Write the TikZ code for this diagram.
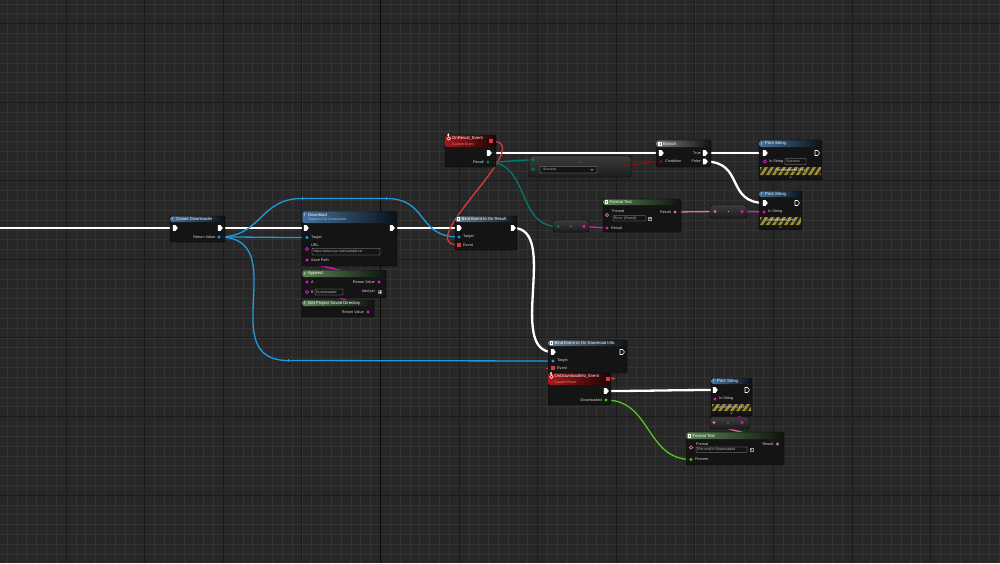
\documentclass[tikz,border=0pt]{standalone}
\usepackage{fontspec}
\setmainfont{Liberation Sans}
\definecolor{bg}{HTML}{272727}
\definecolor{gridminor}{HTML}{333333}
\definecolor{gridmajor}{HTML}{1B1B1B}
\definecolor{gridorigin}{HTML}{0A0A0A}
\definecolor{bodyc}{HTML}{141414}
\definecolor{hblue}{HTML}{44719C}
\definecolor{hbind}{HTML}{667E94}
\definecolor{hgreen}{HTML}{5B8655}
\definecolor{hgray}{HTML}{7A7A7A}
\definecolor{hred}{HTML}{A8181A}
\definecolor{wobj}{HTML}{1E9BE0}
\definecolor{wdel}{HTML}{D83A3A}
\definecolor{wbool}{HTML}{8C1010}
\definecolor{wenum}{HTML}{007A6A}
\definecolor{wstr}{HTML}{EE10C8}
\definecolor{wtext}{HTML}{DD6FAA}
\definecolor{wnum}{HTML}{4AC81E}
\definecolor{lblc}{HTML}{D6D6D6}
\definecolor{subc}{HTML}{A9C3DA}
\definecolor{subred}{HTML}{E48A8A}
\definecolor{hazy}{HTML}{9C9030}
\definecolor{ctop}{HTML}{3C3C3C}
\definecolor{cbot}{HTML}{1C1C1C}
\tikzset{
  bpbody/.style={rectangle, rounded corners=2pt, fill=bodyc, fill opacity=0.96, draw=black, line width=0.4pt, inner sep=0pt, outer sep=0pt, anchor=north west},
  cbody/.style={rectangle, rounded corners=2.5pt, top color=ctop, bottom color=cbot, draw=black, line width=0.4pt, inner sep=0pt, outer sep=0pt, anchor=north west},
  ttl/.style={text=white, font=\fontsize{4.2}{4.5}\selectfont, inner sep=0pt, anchor=west},
  subt/.style={text=subc, font=\fontsize{3.4}{4}\selectfont, inner sep=0pt, anchor=west},
  lab/.style={text=lblc, font=\fontsize{3.8}{4}\selectfont, inner sep=0pt},
  fld/.style={fill=black!92, draw=gray!70, line width=0.3pt, rounded corners=0.6pt},
  fldtxt/.style={text=gray!50!white, font=\fontsize{3.5}{4}\selectfont, inner sep=0pt, anchor=west},
  dpin/.style={circle, fill=#1, minimum size=3.4pt, inner sep=0pt},
  hpin/.style={circle, draw=#1, line width=0.6pt, minimum size=3.2pt, inner sep=0pt},
  spin/.style={rectangle, fill=#1, minimum size=3.2pt, inner sep=0pt},
  execw/.style={draw=white, line width=2.3pt},
  dataw/.style={draw=#1, line width=1.3pt},
  execf/.pic={\fill[white] (-2.2,-2.8) -- (0.6,-2.8) -- (2.8,0) -- (0.6,2.8) -- (-2.2,2.8) -- cycle;},
  exech/.pic={\draw[white, line width=0.55pt, line join=round] (-2,-2.5) -- (0.5,-2.5) -- (2.5,0) -- (0.5,2.5) -- (-2,2.5) -- cycle;},
}
\newcommand{\bpbox}[7]{%
  \pgfmathsetmacro\bpW{#4-#2}%
  \pgfmathsetmacro\bpH{#5-#3}%
  \node[bpbody, minimum width=\bpW pt, minimum height=\bpH pt] (#1) at (#2,#3) {};%
  \shade[left color=#7, right color=#7!15!black, rounded corners=1.5pt] (#2+0.3,#3+0.3) rectangle (#4-0.3,#6);%
}
\newcommand{\cbox}[5]{%
  \pgfmathsetmacro\bpW{#4-#2}%
  \pgfmathsetmacro\bpH{#5-#3}%
  \node[cbody, minimum width=\bpW pt, minimum height=\bpH pt] (#1) at (#2,#3) {};%
}
\newcommand{\devonly}[4]{%
  \begin{scope}
    \clip (#1,#2) rectangle (#3,#4);
    \fill[black!85] (#1,#2) rectangle (#3,#4);
    \foreach \s in {0,6,...,84} \fill[hazy] (#1-12+\s,#4) -- (#1-9+\s,#4) -- (#1-4+\s,#2) -- (#1-7+\s,#2) -- cycle;
  \end{scope}
  \node[text=black, font=\fontsize{3.6}{4}\selectfont, inner sep=0pt] at ({(#1+#3)/2+0.35},{(#2+#4)/2+0.35}) {Development Only};
  \node[text=white, font=\fontsize{3.6}{4}\selectfont, inner sep=0pt] at ({(#1+#3)/2},{(#2+#4)/2}) {Development Only};
  \draw[gray!80, line width=0.4pt] ({(#1+#3)/2-1},{#4+1.6}) -- ({(#1+#3)/2},{#4+2.6}) -- ({(#1+#3)/2+1},{#4+1.6});
}
\begin{document}
\begin{tikzpicture}[x=1pt,y=-1pt]
\useasboundingbox (0,0) rectangle (1000,563);
% ---------- background grid ----------
\fill[bg] (0,0) rectangle (1000,563);
\foreach \i in {0,...,101} \draw[gridminor, line width=0.6pt] ({7.05+9.825*\i},0) -- ({7.05+9.825*\i},563);
\foreach \i in {0,...,57} \draw[gridminor, line width=0.6pt] (0,{3.85+9.825*\i}) -- (1000,{3.85+9.825*\i});
\foreach \i in {-1,...,12} \draw[gridmajor, line width=1pt] ({66+78.6*\i},0) -- ({66+78.6*\i},563);
\foreach \i in {0,...,7} \draw[gridmajor, line width=1pt] (0,{23.5+78.6*\i}) -- (1000,{23.5+78.6*\i});
\draw[gridorigin, line width=1pt] (380.4,0) -- (380.4,563);
% ---------- pin coordinates ----------
\coordinate (lstart) at (0,228);
\coordinate (cd-in) at (175,228); \coordinate (cd-out) at (220,228); \coordinate (cd-rv) at (219,237);
\coordinate (dl-in) at (306,228); \coordinate (dl-out) at (392,228); \coordinate (dl-tgt) at (307,237.5);
\coordinate (dl-url) at (307,249); \coordinate (dl-sp) at (307,260);
\coordinate (ap-a) at (307,282); \coordinate (ap-rv) at (379,282); \coordinate (ap-b) at (307,292);
\coordinate (gp-rv) at (368,312);
\coordinate (br-in) at (459,228); \coordinate (br-out) at (513,228); \coordinate (br-tgt) at (459,237); \coordinate (br-ev) at (459,245);
\coordinate (or-del) at (491,141); \coordinate (or-out) at (489,153); \coordinate (or-res) at (488,162);
\coordinate (eq-a) at (533,160); \coordinate (eq-b) at (533,169.5); \coordinate (eq-out) at (625,165);
\coordinate (bx-in) at (661,153); \coordinate (bx-cond) at (661,161.5); \coordinate (bx-t) at (705,153); \coordinate (bx-f) at (705,161.5);
\coordinate (ps1-in) at (765,153); \coordinate (ps1-out) at (817,153); \coordinate (ps1-str) at (765,161.5);
\coordinate (ps2-in) at (765,203); \coordinate (ps2-out) at (797,203); \coordinate (ps2-str) at (764,212);
\coordinate (ft1-fmt) at (607,215); \coordinate (ft1-ro) at (675,212); \coordinate (ft1-ri) at (607,228);
\coordinate (cv1-in) at (715,211.5); \coordinate (cv1-out) at (742,211.5);
\coordinate (cv2-in) at (558,226.5); \coordinate (cv2-out) at (584,226.5);
\coordinate (bd-in) at (553,352); \coordinate (bd-out) at (622,352); \coordinate (bd-tgt) at (553,361); \coordinate (bd-ev) at (553,368);
\coordinate (od-del) at (608,379); \coordinate (od-out) at (606,391); \coordinate (od-dl) at (606,400);
\coordinate (ps3-in) at (715,390); \coordinate (ps3-out) at (747,390); \coordinate (ps3-str) at (715,399);
\coordinate (cv3-in) at (714,422.5); \coordinate (cv3-out) at (742,422.5);
\coordinate (ft2-fmt) at (691,447.5); \coordinate (ft2-res) at (777.5,444); \coordinate (ft2-pct) at (691,459.5);
\coordinate (k1) at (302,198.5); \coordinate (k2) at (386,198.5); \coordinate (k3) at (288,360.5);
% ---------- wires ----------
\draw[execw] (lstart) -- (cd-in);
\draw[execw] (cd-out) -- (dl-in);
\draw[execw] (dl-out) -- (br-in);
\draw[execw] (or-out) -- (bx-in);
\draw[execw] (bx-t) -- (ps1-in);
\draw[execw] (bx-f) .. controls +(40,0) and +(-40,0) .. (ps2-in);
\draw[execw] (br-out) .. controls +(47,0) and +(-47,0) .. (bd-in);
\draw[execw] (od-out) .. controls +(40,0) and +(-40,0) .. (ps3-in);
\draw[dataw=wobj] (cd-rv) .. controls +(40,0) and +(-40,0) .. (dl-tgt);
\draw[dataw=wobj] (cd-rv) .. controls +(43,0) and +(-43,0) .. (k1) -- (k2) .. controls +(43,0) and +(-43,0) .. (br-tgt);
\draw[dataw=wobj] (cd-rv) .. controls +(75,0) and +(-75,0) .. (k3) -- (bd-tgt);
\foreach \k in {k1,k2,k3} \draw[wobj, line width=0.8pt] ([yshift=1.8pt]\k) -- ([yshift=-1.8pt]\k);
\draw[dataw=wdel] (or-del) .. controls +(50,0) and +(-50,0) .. (br-ev);
\draw[dataw=wdel] (od-del) .. controls +(32,0) and +(-32,0) .. (bd-ev);
\draw[dataw=wbool] (eq-out) .. controls +(18,0) and +(-18,0) .. (bx-cond);
\draw[dataw=wenum] (or-res) .. controls +(22,0) and +(-22,0) .. (eq-a);
\draw[dataw=wenum] (or-res) .. controls +(42,0) and +(-42,0) .. (cv2-in);
\draw[dataw=wstr] (cv2-out) -- (ft1-ri);
\draw[dataw=wtext] (ft1-ro) -- (cv1-in);
\draw[dataw=wstr] (cv1-out) -- (ps2-str);
\draw[dataw=wstr] (ap-rv) .. controls +(20,0) and +(-20,0) .. (dl-sp);
\draw[dataw=wstr] (gp-rv) .. controls +(20,0) and +(-20,0) .. (ap-a);
\draw[dataw=wtext] (ft2-res) .. controls +(20,0) and +(-20,0) .. (cv3-in);
\draw[dataw=wstr] (cv3-out) .. controls +(20,0) and +(-20,0) .. (ps3-str);
\draw[dataw=wnum] (od-dl) .. controls +(45,0) and +(-45,0) .. (ft2-pct);
% ---------- nodes ----------
% Create Downloader
\bpbox{cd}{170}{216}{225}{242}{222}{hblue}
\node[ttl] at (171.8,219) {\textit{f}}; \node[ttl] at (176,219) {Create Downloader};
\node[lab, anchor=east] at ([xshift=-3.5pt]cd-rv) {Return Value};
% Download
\bpbox{dl}{302}{211}{397}{266}{223}{hblue}
\node[ttl] at (304,214.5) {\textit{f}}; \node[ttl] at (308,214.5) {Download};
\node[subt] at (308,219.5) {Target is File Downloader};
\node[lab, anchor=west] at ([xshift=4pt]dl-tgt) {Target};
\node[lab, anchor=west] at (311,245) {URL};
\draw[fld] (312,248.3) rectangle (380,255);
\node[fldtxt] at (313.5,251.6) {https://www.xyz.com/sample.txt};
\node[lab, anchor=west] at ([xshift=4pt]dl-sp) {Save Path};
% Append
\bpbox{ap}{302}{270}{386}{298}{277}{hgreen}
\node[ttl] at (304,273.5) {\textit{f}}; \node[ttl] at (308,273.5) {Append};
\node[lab, anchor=west] at ([xshift=4pt]ap-a) {A};
\node[lab, anchor=east] at ([xshift=-4pt]ap-rv) {Return Value};
\node[lab, anchor=west] at ([xshift=4pt]ap-b) {B};
\draw[fld] (315,289) rectangle (343,295);
\node[fldtxt] at (316,292) {Downloaded/};
\node[lab, anchor=east] at (375,292) {Add pin};
\draw[lblc, line width=0.4pt] (380,292) circle (2);
\draw[lblc, line width=0.4pt] (378.8,292) -- (381.2,292) (380,290.8) -- (380,293.2);
% Get Project Saved Directory
\bpbox{gp}{302}{300}{374}{317}{306}{hgreen}
\node[ttl] at (304,303) {\textit{f}}; \node[ttl] at (308,303) {Get Project Saved Directory};
\node[lab, anchor=east] at ([xshift=-4pt]gp-rv) {Return Value};
% Bind Event to On Result
\bpbox{br}{455}{216}{517}{250}{222}{hbind}
\draw[white, line width=0.4pt] (456.8,217.6) rectangle (459.6,220.4);
\node[ttl] at (461.5,219) {Bind Event to On Result};
\node[lab, anchor=west] at ([xshift=4pt]br-tgt) {Target};
\node[lab, anchor=west] at ([xshift=4pt]br-ev) {Event};
% OnResult_Event
\bpbox{or}{445}{135}{496}{167}{147}{hred}
\draw[white, line width=0.5pt] (448.8,138.5) circle (1.7);
\fill[white] (448.8,136.8) arc (90:270:1.7) -- cycle;
\node[ttl] at (452,138.5) {OnResult\_Event};
\node[subt, text=subred] at (452,144) {Custom Event};
\node[lab, anchor=east] at ([xshift=-4pt]or-res) {Result};
% Equal (enum) compact node
\cbox{eq}{529}{156}{631}{177}
\node[text=gray!80, font=\fontsize{2.6}{3}\selectfont, inner sep=0pt] at (580,163) {==};
\draw[fld] (540,166.5) rectangle (597,173);
\node[fldtxt] at (543,169.75) {Success};
\draw[lblc, line width=0.4pt] (590.8,169) -- (592,170.4) -- (593.2,169);
% Branch
\bpbox{bx}{656}{140}{711}{167}{147}{hgray}
\draw[white, line width=0.4pt] (658,142) rectangle (661,145) (659.5,142) -- (659.5,145);
\node[ttl] at (663,143.5) {Branch};
\node[lab, anchor=west] at ([xshift=4pt]bx-cond) {Condition};
\node[lab, anchor=east] at ([xshift=-4pt]bx-t) {True};
\node[lab, anchor=east] at ([xshift=-4pt]bx-f) {False};
% Print String 1
\bpbox{ps1}{759}{140}{822}{180}{147}{hblue}
\node[ttl] at (761,143.5) {\textit{f}}; \node[ttl] at (765,143.5) {Print String};
\node[lab, anchor=west] at ([xshift=4pt]ps1-str) {In String};
\draw[fld] (785,158.5) rectangle (806,164.5);
\node[fldtxt] at (786.5,161.5) {Success};
\devonly{760}{167}{821}{175}
% Print String 2
\bpbox{ps2}{759}{191}{802}{230}{197}{hblue}
\node[ttl] at (761,194) {\textit{f}}; \node[ttl] at (765,194) {Print String};
\node[lab, anchor=west] at ([xshift=4pt]ps2-str) {In String};
\devonly{760}{217}{801}{225}
% Format Text 1
\bpbox{ft1}{603}{199}{681}{232}{205}{hgreen}
\draw[white, line width=0.4pt] (604.8,200.6) rectangle (607.6,203.4);
\node[ttl] at (609.5,202) {Format Text};
\node[lab, anchor=west] at (612,211.5) {Format};
\draw[fld] (613,215.8) rectangle (646,221);
\node[fldtxt] at (614,218.4) {Error: \{Result\}};
\draw[gray!80, line width=0.4pt] (648.5,216.8) rectangle (651.5,220) (649.2,218) -- (650.8,218);
\node[lab, anchor=east] at ([xshift=-4pt]ft1-ro) {Result};
\node[lab, anchor=west] at ([xshift=4pt]ft1-ri) {Result};
% conversion nodes
\cbox{cv1}{710}{205}{747}{218}
\fill[gray!70] (728.5,211.5) circle (0.7);
\cbox{cv2}{553}{220}{589}{232}
\fill[gray!70] (571,226.5) circle (0.7);
% Bind Event to On Download Info
\bpbox{bd}{548}{340}{627}{373}{346}{hbind}
\draw[white, line width=0.4pt] (549.8,341.6) rectangle (552.6,344.4);
\node[ttl] at (554.5,343) {Bind Event to On Download Info};
\node[lab, anchor=west] at ([xshift=4pt]bd-tgt) {Target};
\node[lab, anchor=west] at ([xshift=4pt]bd-ev) {Event};
% OnDownloadInfo_Event
\bpbox{od}{548}{373}{611}{405}{385}{hred}
\draw[white, line width=0.5pt] (551.5,376.7) circle (1.7);
\fill[white] (551.5,375) arc (90:270:1.7) -- cycle;
\node[ttl] at (554.5,376.7) {OnDownloadInfo\_Event};
\node[subt, text=subred] at (554.5,382) {Custom Event};
\node[lab, anchor=east] at ([xshift=-4pt]od-dl) {Downloaded};
% Print String 3
\bpbox{ps3}{711}{378}{752}{416}{384}{hblue}
\node[ttl] at (713,381) {\textit{f}}; \node[ttl] at (717,381) {Print String};
\node[lab, anchor=west] at ([xshift=4pt]ps3-str) {In String};
\devonly{712}{404}{751}{411}
\cbox{cv3}{710}{417}{749}{429}
\fill[gray!70] (728,423) circle (0.7);
% Format Text 2
\bpbox{ft2}{686}{432}{784}{465}{439}{hgreen}
\draw[white, line width=0.4pt] (687.8,434.3) rectangle (690.6,437.1);
\node[ttl] at (692.5,435.7) {Format Text};
\node[lab, anchor=west] at (696,444) {Format};
\draw[fld] (696,447) rectangle (747,452.3);
\node[fldtxt] at (697,449.7) {\{Percent\}\% Downloaded};
\draw[gray!80, line width=0.4pt] (750,448) rectangle (753,451.2) (750.7,449.6) -- (752.3,449.6);
\node[lab, anchor=east] at ([xshift=-4pt]ft2-res) {Result};
\node[lab, anchor=west] at ([xshift=4pt]ft2-pct) {Percent};
% ---------- pins ----------
\foreach \p in {cd-in,cd-out,dl-in,dl-out,br-in,br-out,or-out,bx-in,bx-t,bx-f,ps1-in,ps2-in,bd-in,od-out,ps3-in} \pic at (\p) {execf};
\foreach \p in {ps1-out,ps2-out,bd-out,ps3-out} \pic at (\p) {exech};
\foreach \p in {cd-rv,dl-tgt,br-tgt,bd-tgt} \node[dpin=wobj] at (\p) {};
\foreach \p in {dl-sp,ap-a,ap-rv,gp-rv,ft1-ri,ps2-str,ps3-str,cv1-out,cv2-out,cv3-out} \node[dpin=wstr] at (\p) {};
\foreach \p in {ft1-ro,ft2-res,cv1-in,cv3-in} \node[dpin=wtext] at (\p) {};
\foreach \p in {dl-url,ap-b,ps1-str} \node[hpin=wstr] at (\p) {};
\foreach \p in {ft1-fmt,ft2-fmt} \node[hpin=wtext] at (\p) {};
\foreach \p in {or-res,eq-a,cv2-in} \node[dpin=wenum] at (\p) {};
\node[hpin=wenum] at (eq-b) {};
\node[dpin=wbool] at (eq-out) {};
\node[dpin=wbool] at (bx-cond) {};
\node[dpin=wnum] at (od-dl) {};
\node[dpin=wnum] at (ft2-pct) {};
\foreach \p in {or-del,od-del,br-ev,bd-ev} \node[spin=wdel] at (\p) {};
\end{tikzpicture}
\end{document}
